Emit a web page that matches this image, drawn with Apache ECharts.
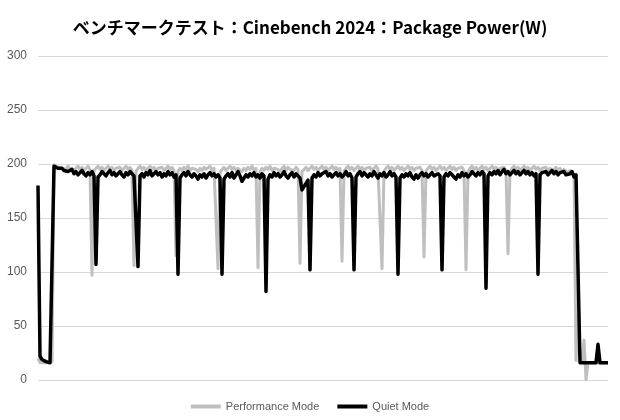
<!DOCTYPE html>
<html>
<head>
<meta charset="utf-8">
<script src="https://cdn.jsdelivr.net/npm/echarts@6/dist/echarts.min.js"></script>
<style>
  html, body { margin: 0; padding: 0; background: #fff; }
  #chart { width: 620px; height: 420px; }
</style>
</head>
<body>
<div id="chart"></div>
<script>
// Chart data, one sample every ~2 px of the original plot
const titleText = 'ベンチマークテスト：Cinebench 2024：Package Power(W)'
const seriesNames = ['Performance Mode', 'Quiet Mode']
const yTicks = [0, 50, 100, 150, 200, 250, 300]

const performanceMode = [
  20, 16, 15, 16, 15, 16, 15, 17, 199, 198,
  197, 198, 196, 197, 195, 198, 196, 197, 194, 196,
  198, 195, 197, 194, 196, 198, 195, 97, 194, 196,
  198, 195, 197, 194, 196, 198, 195, 197, 194, 196,
  195, 197, 194, 196, 198, 195, 197, 194, 106, 193,
  196, 198, 195, 197, 194, 196, 198, 195, 197, 194,
  196, 195, 197, 194, 196, 198, 195, 197, 194, 115,
  193, 196, 194, 197, 195, 198, 194, 196, 197, 195,
  193, 196, 194, 197, 195, 196, 198, 194, 196, 195,
  103, 192, 195, 197, 194, 196, 198, 195, 197, 194,
  196, 195, 193, 196, 194, 197, 195, 198, 194, 196,
  104, 193, 196, 194, 197, 195, 198, 194, 196, 197,
  195, 193, 196, 198, 194, 197, 195, 196, 194, 197,
  195, 108, 193, 195, 197, 194, 196, 198, 195, 197,
  194, 196, 198, 195, 197, 194, 196, 198, 195, 197,
  194, 196, 110, 193, 196, 198, 195, 197, 194, 196,
  198, 195, 197, 194, 196, 195, 197, 194, 196, 198,
  195, 196, 103, 193, 196, 198, 195, 197, 194, 196,
  198, 195, 197, 194, 196, 198, 195, 197, 194, 196,
  195, 197, 194, 114, 193, 196, 198, 195, 197, 194,
  196, 198, 195, 197, 194, 196, 198, 195, 197, 194,
  196, 195, 197, 194, 102, 193, 196, 198, 195, 197,
  194, 196, 198, 195, 197, 194, 196, 198, 195, 197,
  194, 196, 195, 197, 194, 117, 193, 196, 198, 195,
  197, 194, 196, 198, 195, 197, 194, 196, 198, 195,
  197, 194, 196, 195, 197, 194, 196, 193, 195, 197,
  194, 196, 193, 195, 194, 192, 194, 193, 190, 18,
  60, 20, 18, 37, 0, 16, 16, 16, 16, 16,
  16, 16, 16, 16, 16, 16
]

const quietMode = [
  180, 22, 19, 18, 17, 16, 16, 16, 198, 197,
  196, 195, 196, 194, 195, 193, 192, 195, 191, 193,
  190, 192, 194, 191, 189, 192, 190, 193, 189, 107,
  188, 190, 193, 191, 189, 192, 194, 190, 192, 189,
  191, 193, 190, 188, 192, 190, 193, 191, 189, 188,
  105, 189, 191, 188, 192, 190, 194, 189, 191, 193,
  190, 192, 188, 191, 189, 193, 190, 192, 188, 190,
  98, 187, 190, 192, 189, 193, 190, 188, 191, 189,
  186, 190, 188, 191, 187, 190, 192, 189, 191, 188,
  190, 187, 98, 186, 189, 191, 188, 192, 187, 190,
  193, 189, 184, 187, 190, 188, 191, 189, 192, 188,
  190, 187, 191, 189, 82, 186, 190, 188, 192, 189,
  191, 188, 190, 193, 189, 187, 190, 192, 188, 191,
  189, 187, 176, 179, 182, 185, 102, 187, 190, 188,
  192, 189, 191, 190, 193, 189, 191, 188, 190, 192,
  189, 191, 188, 190, 193, 189, 191, 187, 102, 188,
  191, 193, 189, 192, 190, 188, 191, 189, 193, 190,
  187, 191, 189, 192, 188, 190, 193, 189, 191, 188,
  98, 187, 190, 188, 191, 189, 192, 188, 186, 190,
  187, 190, 192, 189, 191, 188, 190, 192, 189, 188,
  191, 189, 102, 188, 191, 189, 192, 190, 188, 186,
  190, 188, 192, 189, 191, 188, 190, 193, 191, 189,
  192, 190, 193, 191, 85, 189, 192, 190, 193, 191,
  194, 190, 193, 195, 191, 193, 190, 192, 194, 191,
  193, 190, 192, 194, 191, 193, 190, 192, 189, 191,
  98, 190, 192, 191, 193, 190, 192, 194, 191, 193,
  190, 192, 191, 193, 190, 189, 191, 193, 188, 190,
  189, 16, 16, 16, 16, 16, 16, 16, 16, 16,
  33, 16, 16, 16, 16, 16
]

const samples = quietMode.map((_, i) => i)

const chart = echarts.init(document.getElementById('chart'))

chart.setOption({
  animation: false,
  title: {
    text: titleText,
    left: 'center',
    top: 14,
    textStyle: {
      fontFamily: 'Noto Sans CJK JP',
      fontSize: 17,
      fontWeight: 'bold',
      color: '#000'
    }
  },
  legend: {
    data: seriesNames,
    left: 'center',
    top: 396,
    icon: 'rect',
    itemWidth: 30,
    itemHeight: 4,
    itemGap: 18,
    textStyle: {
      fontFamily: 'Liberation Sans',
      fontSize: 11,
      color: '#595959'
    }
  },
  grid: { left: 38, right: 12, top: 56, bottom: 40 },
  xAxis: {
    type: 'category',
    data: samples,
    boundaryGap: false,
    axisLine: { show: false },
    axisTick: { show: false },
    axisLabel: { show: false },
    splitLine: { show: false }
  },
  yAxis: {
    type: 'value',
    min: yTicks[0],
    max: yTicks[yTicks.length - 1],
    interval: 50,
    axisLine: { show: false },
    axisTick: { show: false },
    axisLabel: {
      margin: 11,
      fontFamily: 'Liberation Sans',
      fontSize: 12,
      color: '#595959'
    },
    splitLine: { lineStyle: { color: '#d9d9d9', width: 1 } }
  },
  series: [
    {
      name: seriesNames[0],
      type: 'line',
      data: performanceMode,
      symbol: 'none',
      color: '#bfbfbf',
      lineStyle: { color: '#bfbfbf', width: 3, join: 'round' }
    },
    {
      name: seriesNames[1],
      type: 'line',
      data: quietMode,
      symbol: 'none',
      color: '#000',
      lineStyle: { color: '#000', width: 3.5, join: 'round' }
    }
  ]
})
</script>
</body>
</html>
